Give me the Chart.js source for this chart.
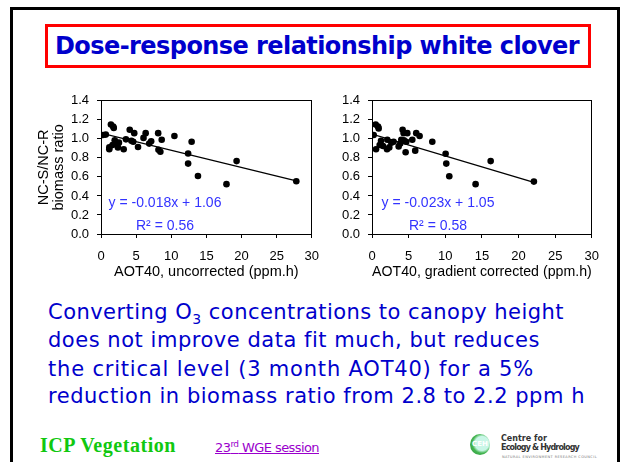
<!DOCTYPE html>
<html><head><meta charset="utf-8">
<script src="https://cdn.jsdelivr.net/npm/chart.js@4.4.1/dist/chart.umd.min.js"></script>
<style>
html,body{margin:0;padding:0;background:#fff;width:623px;height:462px;overflow:hidden;position:relative;}
#slide{position:absolute;left:10px;top:7px;width:610px;height:520px;border:3px solid #000;box-sizing:border-box;}
#titlebox{position:absolute;left:45px;top:24px;width:546px;height:44px;border:3px solid #ff0000;box-sizing:border-box;}
.abs{position:absolute;white-space:nowrap;line-height:normal;}
.ttl{font-family:'DejaVu Sans',sans-serif;font-weight:bold;font-size:24px;color:#0000cc;}
.bodyt{font-family:'DejaVu Sans',sans-serif;font-size:21px;color:#0000cc;}
.bodyt sub{font-size:14px;vertical-align:-5px;line-height:0;}
.icp{font-family:'Liberation Serif',serif;font-weight:bold;font-size:20px;color:#10c810;}
.wge{font-family:'DejaVu Sans',sans-serif;font-size:13px;color:#9a00cc;text-decoration:underline;}
.wge sup{font-size:9px;vertical-align:5px;line-height:0;}
#logoC{position:absolute;left:470px;top:434px;width:20px;height:21px;border-radius:50%;
 background:radial-gradient(circle at 60% 45%, #c9f6e7 0 42%, #46b652 58%, #1d8a34 100%);
 font:bold 7px 'DejaVu Sans',sans-serif;color:#fff;text-align:center;line-height:21px;}
.logo1{font-family:'DejaVu Sans',sans-serif;font-weight:bold;font-size:8px;color:#333;}
.logo2{font-family:'DejaVu Sans',sans-serif;font-size:3.5px;color:#777;}
canvas{position:absolute;}
</style></head><body>
<div id="slide"></div>
<div id="titlebox"></div>
<canvas id="cL" width="310" height="200" style="left:20px;top:85px;"></canvas>
<canvas id="cR" width="280" height="200" style="left:330px;top:85px;"></canvas>
<div id="logoC">CEH</div>
<script>
// ---- data ----
const xTickLabels = ['0','5','10','15','20','25','30'];
const yTickLabels = ['0.0','0.2','0.4','0.6','0.8','1.0','1.2','1.4'];

const uncorrX = [0.27,0.68,1.41,1.73,1.82,1.18,1.18,1.64,1.95,2.18,2.55,2.41,3.23,3.55,4.09,4.32,4.59,4.73,5.27,6.05,6.36,6.86,7.14,8.14,8.18,8.45,8.64,10.45,12.4,12.4,12.9,13.8,17.86,19.3,27.8];
const uncorrY = [1.04,1.045,1.15,1.13,1.115,0.91,0.89,0.935,0.985,0.96,0.96,0.91,0.89,0.995,1.095,0.98,0.97,1.06,0.915,1.01,1.06,0.95,0.975,1.06,0.885,0.865,0.99,1.03,0.846,0.74,0.97,0.61,0.524,0.766,0.554];

const gradX = [0.23,0.5,0.82,0.91,0.55,1.05,1.23,1.5,2.05,2.09,2.36,2.64,2.95,3.64,3.86,4.0,4.18,4.32,4.36,4.59,4.68,4.82,5.5,5.9,6.04,6.5,8.23,10.05,10.14,10.55,14.14,16.2,22.1];
const gradY = [1.04,1.15,1.13,1.11,0.89,0.935,0.98,0.925,0.89,0.99,0.91,0.96,0.97,0.92,0.95,0.99,1.095,1.06,0.985,0.86,0.97,1.06,0.99,0.876,1.06,1.03,0.97,0.843,0.74,0.607,0.524,0.766,0.551];

const fitSlope = [-0.018, -0.023];
const fitIntercept = [1.06, 1.05];
const fitR2 = [0.56, 0.58];
const xTitles = ['AOT40, uncorrected (ppm.h)', 'AOT40, gradient corrected (ppm.h)'];
const yTitleLines = ['NC-S/NC-R', 'biomass ratio'];

Chart.defaults.font.family = "'Liberation Sans', Arial, sans-serif";
Chart.defaults.color = '#000';

function alignPx(p){ return Math.round(p - 0.5) + 0.5; }

const framePlugin = {
  id: 'frame',
  afterDraw(chart, args, o) {
    const {ctx, chartArea: a} = chart;
    ctx.save();
    ctx.strokeStyle = '#000'; ctx.lineWidth = 1;
    const l = alignPx(a.left), r = alignPx(a.right), t = alignPx(a.top), b = alignPx(a.bottom);
    ctx.strokeRect(l, t, r - l, b - t);
    ctx.fillStyle = '#3333ff';
    ctx.font = "14px 'Liberation Sans', Arial, sans-serif";
    ctx.textAlign = 'center'; ctx.textBaseline = 'middle';
    ctx.fillText(o.eq, a.left + o.cx, a.top + o.eqY);
    ctx.fillText(o.r2, a.left + o.cx, a.top + o.r2Y);
    ctx.restore();
  }
};

function makeChart(id, xs, ys, k, yWidth, padR, showYTitle) {
  const pts = xs.map((x, i) => ({x: x, y: ys[i]}));
  const xEnd = Math.max(...xs);
  const trend = [0, xEnd].map(x => ({x: x, y: fitIntercept[k] + fitSlope[k] * x}));
  const eq = 'y = ' + fitSlope[k].toFixed(3) + 'x + ' + fitIntercept[k].toFixed(2);
  const r2 = 'R\u00B2 = ' + fitR2[k].toFixed(2);
  return new Chart(document.getElementById(id), {
    type: 'scatter',
    data: { datasets: [
      { data: pts, backgroundColor: '#000', borderColor: '#000', pointRadius: 3.3, pointBorderWidth: 0, pointHoverRadius: 3.3 },
      { data: trend, showLine: true, borderColor: '#000', borderWidth: 1.3, pointRadius: 0, fill: false }
    ]},
    options: {
      responsive: false, animation: false, events: [],
      layout: { padding: { top: 8, right: padR, left: 0, bottom: 0 } },
      plugins: { legend: { display: false }, tooltip: { enabled: false },
        frame: { eq: eq, r2: r2, cx: k === 0 ? 64 : 66, eqY: 102, r2Y: 125 } },
      scales: {
        x: {
          type: 'linear', min: 0, max: 30,
          afterBuildTicks: s => { s.ticks = xTickLabels.map(v => ({value: Number(v)})); },
          ticks: { autoSkip: false, maxRotation: 0, padding: 11, font: { size: 13 }, color: '#000',
                   callback: (v, i) => xTickLabels[i] },
          grid: { display: true, drawOnChartArea: false, drawTicks: true, tickLength: 4, color: '#000' },
          border: { display: true, color: '#000' },
          title: { display: true, text: xTitles[k], font: { size: 14.5, lineHeight: '16px' }, color: '#000', padding: { top: 0, bottom: 5 } },
          afterFit: s => { s.height = 51; }
        },
        y: {
          type: 'linear', min: 0, max: 1.4,
          afterBuildTicks: s => { s.ticks = yTickLabels.map(v => ({value: Number(v)})); },
          ticks: { autoSkip: false, padding: 8, font: { size: 13 }, color: '#000',
                   callback: (v, i) => yTickLabels[i] },
          grid: { display: true, drawOnChartArea: false, drawTicks: true, tickLength: 4, color: '#000' },
          border: { display: true, color: '#000' },
          title: { display: showYTitle, text: yTitleLines, font: { size: 14.5, lineHeight: '15px' }, color: '#000', padding: { top: 16.5, bottom: 0 } },
          afterFit: s => { s.width = yWidth; }
        }
      }
    },
    plugins: [framePlugin]
  });
}

makeChart('cL', uncorrX, uncorrY, 0, 81, 9, true);
makeChart('cR', gradX, gradY, 1, 42, 18, false);

// ---- slide text ----
function place(html, cls, x, baseline, width) {
  const el = document.createElement('div');
  el.className = 'abs ' + cls;
  el.innerHTML = html;
  el.style.left = x + 'px'; el.style.top = '0px';
  document.body.appendChild(el);
  if (width) {
    const n = el.textContent.length;
    const w = el.getBoundingClientRect().width;
    el.style.letterSpacing = ((width - w) / n) + 'px';
  }
  const m = document.createElement('span');
  m.style.cssText = 'display:inline-block;width:0;height:0;vertical-align:baseline';
  el.appendChild(m);
  const b = m.getBoundingClientRect().bottom - el.getBoundingClientRect().top;
  el.style.top = (baseline - b) + 'px';
  return el;
}

place('Dose-response relationship white clover', 'ttl', 55, 54, 524);
place('Converting O<sub>3</sub> concentrations to canopy height', 'bodyt', 48, 319, 516);
place('does not improve data fit much, but reduces', 'bodyt', 48, 347, 492);
place('the critical level (3 month AOT40) for a 5%', 'bodyt', 48, 376, 486);
place('reduction in biomass ratio from 2.8 to 2.2 ppm h', 'bodyt', 48, 403, 537);
place('ICP Vegetation', 'icp', 40, 452, 136);
place('23<sup>rd</sup> WGE session', 'wge', 215, 452, 104);
place('Centre for', 'logo1', 501, 441, 0);
place('Ecology &amp; Hydrology', 'logo1', 501, 450, 78);
place('NATURAL ENVIRONMENT RESEARCH COUNCIL', 'logo2', 502, 458, 95);
</script>
</body></html>
